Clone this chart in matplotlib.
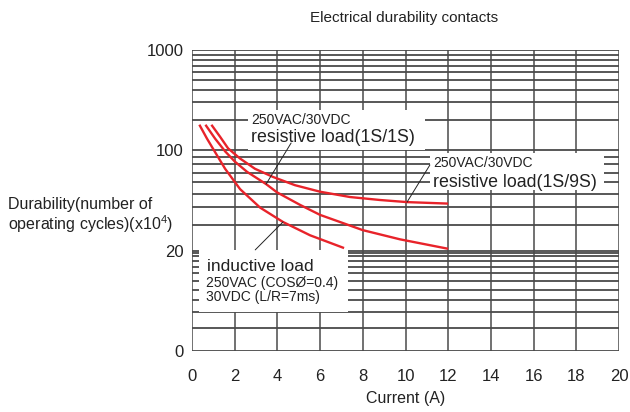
import numpy as np
import matplotlib
matplotlib.use("Agg")
import matplotlib.pyplot as plt
from matplotlib.patches import Rectangle

plt.rcParams['font.family'] = ['Liberation Sans', 'DejaVu Sans']
plt.rcParams['mathtext.fontset'] = 'custom'
plt.rcParams['mathtext.rm'] = 'Liberation Sans'

# curve data (current A, durability x10^4)
res9_x = [0.94, 1.31, 1.69, 2.25, 2.95, 3.79, 4.82, 6.0, 7.4, 8.8, 10.07, 11.94]
res9_y = [176, 137, 104.6, 87.7, 74.4, 65.3, 57.2, 51.5, 47.3, 45.1, 43.6, 42.6]

res1_x = [0.66, 1.08, 1.55, 2.01, 2.58, 3.47, 3.98, 5.06, 6.0, 8.0, 9.74, 11.94]
res1_y = [176, 131, 98.4, 83.4, 70.8, 58.2, 51, 41.7, 35.5, 27.8, 24.0, 20.7]

ind_x = [0.37, 0.70, 1.03, 1.55, 2.25, 3.19, 4.26, 5.53, 7.07]
ind_y = [176, 131, 100, 74.4, 53.7, 39.9, 31.7, 25.6, 21.0]

x_ticks = list(range(0, 21, 2))
y_ticks = [0, 20, 100, 1000]
h_grid = [2, 4, 6, 8, 10, 12, 14, 16, 18, 19, 20,
          30, 40, 50, 60, 70, 80, 90, 100,
          200, 300, 400, 500, 600, 700, 800, 900, 1000]


# piecewise axis: 0-20, 20-100, 100-1000 each get one band
def fwd(v):
    v = np.asarray(v, dtype=float)
    low = np.log10(1 + 0.25 * np.clip(v, 0, 20)) / np.log10(6)
    mid = 1 + np.log10(np.clip(v, 20, 100) / 20) / np.log10(5)
    high = 2 + np.log10(np.clip(v, 100, None) / 100)
    return np.where(v <= 20, low, np.where(v <= 100, mid, high))


def inv(p):
    p = np.asarray(p, dtype=float)
    low = (6 ** np.clip(p, 0, 1) - 1) / 0.25
    mid = 20 * 5 ** (np.clip(p, 1, 2) - 1)
    high = 100 * 10 ** (np.clip(p, 2, None) - 2)
    return np.where(p <= 1, low, np.where(p <= 2, mid, high))


fig = plt.figure(figsize=(6.3, 4.12), dpi=100)
ax = fig.add_axes([0.3048, 0.148, 0.6778, 0.7306])
ax.set_yscale('function', functions=(fwd, inv))
ax.set_xlim(0, 20)
ax.set_ylim(0, 1000)

ax.hlines([0] + h_grid, 0, 20, color='#2a2a2a', lw=1.1, zorder=1)
ax.vlines(x_ticks, 0, 1000, color='#4a4a4a', lw=1.1, zorder=1)
for s in ax.spines.values():
    s.set_visible(False)

red = '#e8232a'
ax.plot(res9_x, res9_y, color=red, lw=1.7, zorder=3)
ax.plot(res1_x, res1_y, color=red, lw=1.7, zorder=3)
ax.plot(ind_x, ind_y, color=red, lw=1.7, zorder=3)

# white label boxes (axes fraction)
for x0, x1, y0, y1 in [(0.131, 0.546, 0.668, 0.801),
                       (0.557, 0.965, 0.535, 0.658),
                       (0.016, 0.365, 0.130, 0.336)]:
    ax.add_patch(Rectangle((x0, y0), x1 - x0, y1 - y0, transform=ax.transAxes,
                           facecolor='white', edgecolor='none', zorder=2))

txt = dict(transform=ax.transAxes, ha='left', va='center', color='#222222', zorder=5)
ax.text(0.138, 0.767, '250VAC/30VDC', fontsize=10, **txt)
ax.text(0.138, 0.711, 'resistive load(1S/1S)', fontsize=12.8, **txt)
ax.text(0.564, 0.625, '250VAC/30VDC', fontsize=10, **txt)
ax.text(0.564, 0.561, 'resistive load(1S/9S)', fontsize=12.8, **txt)
ax.text(0.035, 0.282, 'inductive load', fontsize=12.5, **txt)
ax.text(0.033, 0.226, '250VAC (COSØ=0.4)', fontsize=10, **txt)
ax.text(0.033, 0.179, '30VDC (L/R=7ms)', fontsize=10, **txt)

lead = dict(arrowstyle='-', color='#222222', lw=0.7, shrinkA=0, shrinkB=0)
ax.annotate('', xy=(res1_x[5], res1_y[5]), xytext=(0.232, 0.691),
            textcoords='axes fraction', arrowprops=lead, zorder=4)
ax.annotate('', xy=(res9_x[10], res9_y[10]), xytext=(0.557, 0.618),
            textcoords='axes fraction', arrowprops=lead, zorder=4)
ax.annotate('', xy=(ind_x[6], ind_y[6]), xytext=(0.148, 0.336),
            textcoords='axes fraction', arrowprops=lead, zorder=4)

ax.set_xticks(x_ticks)
ax.set_yticks(y_ticks)
ax.set_yticklabels([str(t) for t in y_ticks])
ax.yaxis.set_minor_locator(matplotlib.ticker.NullLocator())
ax.tick_params(axis='both', length=0, labelsize=12, colors='#222222')
ax.tick_params(axis='x', pad=13)
ax.tick_params(axis='y', pad=6)

fig.text(0.641, 1 - 18 / 412, 'Electrical durability contacts', fontsize=11,
         ha='center', va='center', color='#222222')
fig.text(406 / 630, 1 - 398 / 412, 'Current (A)', fontsize=11.5,
         ha='center', va='center', color='#222222')
fig.text(8 / 630, 1 - 216 / 412,
         'Durability(number of\noperating cycles)(x10$^\\mathregular{4}$)',
         fontsize=11.5, ha='left', va='center', linespacing=1.1, color='#222222')

fig.savefig('out.png', dpi=100)
